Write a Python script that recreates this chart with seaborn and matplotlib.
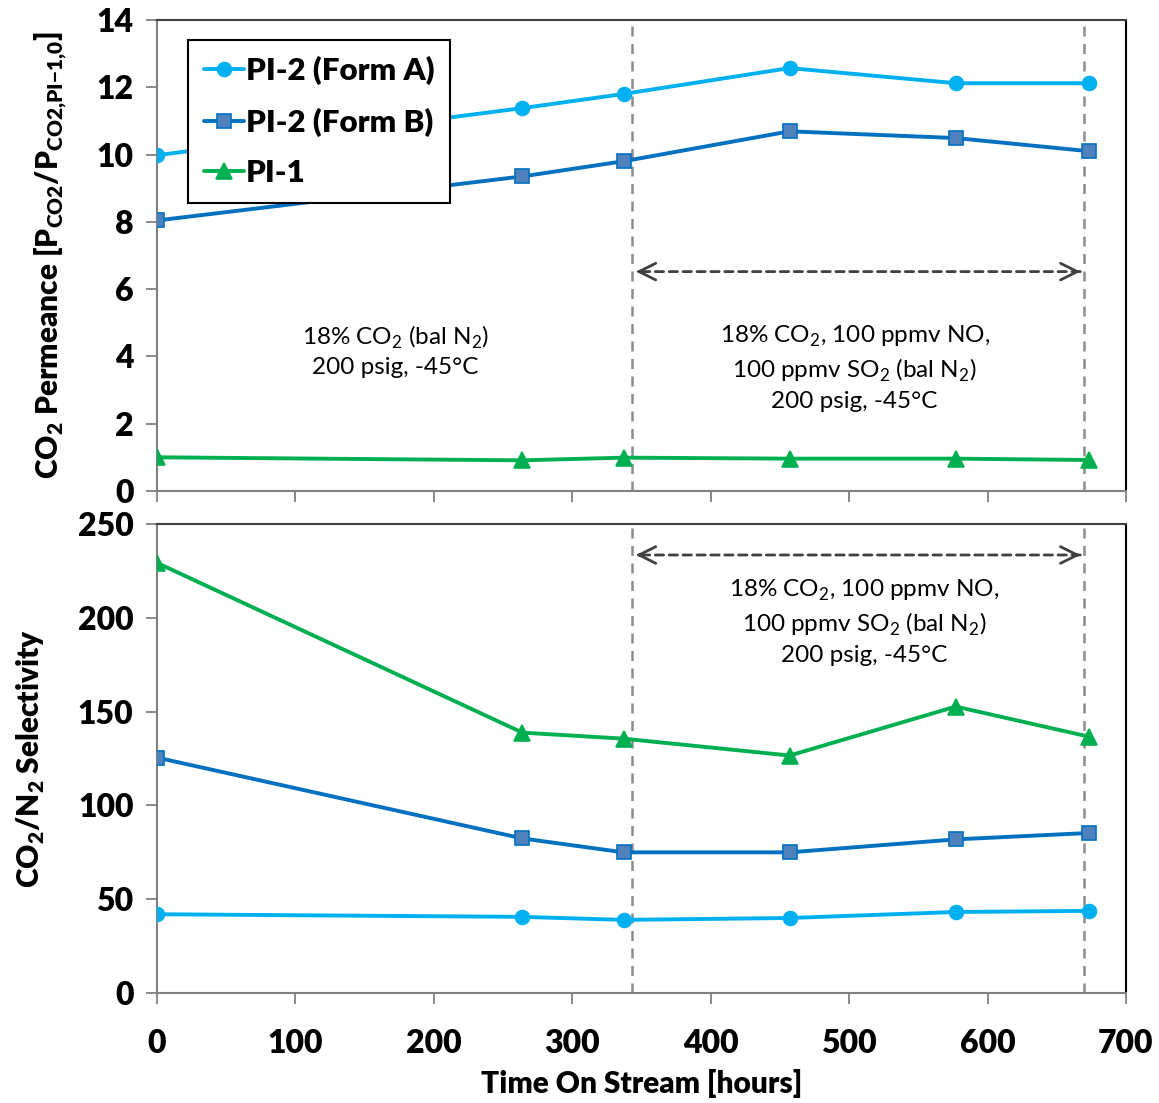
import matplotlib
matplotlib.use("Agg")
import matplotlib.pyplot as plt
import seaborn as sns
import pandas as pd

# ---- data ----
hours = [0, 264, 337, 457, 577, 673]
perm_form_a = [9.98, 11.38, 11.8, 12.57, 12.12, 12.12]
perm_form_b = [8.04, 9.35, 9.8, 10.69, 10.49, 10.1]
perm_pi1 = [1.0, 0.91, 0.99, 0.96, 0.96, 0.92]
sel_form_a = [42.0, 40.6, 39.0, 40.0, 43.2, 43.8]
sel_form_b = [125.5, 82.4, 75.0, 75.0, 81.9, 85.3]
sel_pi1 = [229.3, 138.8, 135.6, 126.6, 152.7, 136.7]
series_names = ["PI-2 (Form A)", "PI-2 (Form B)", "PI-1"]
switch_hours = [343, 670]
xticks = [0, 100, 200, 300, 400, 500, 600, 700]

sns.set_theme(style="white")
plt.rcParams["font.family"] = ["Lato", "DejaVu Sans"]
plt.rcParams["axes.unicode_minus"] = False
plt.rcParams["text.color"] = "black"
plt.rcParams["axes.labelcolor"] = "black"

fig = plt.figure(figsize=(11.59, 11.03), dpi=100)
ax1 = fig.add_axes([0.1355, 0.5549, 0.836, 0.427])
ax2 = fig.add_axes([0.1355, 0.0997, 0.836, 0.4252])

styles = {
    "PI-2 (Form A)": dict(color="#00B0F0", marker="o", mfc="#00B0F0", mec="#00B0F0", ms=10),
    "PI-2 (Form B)": dict(color="#0070C0", marker="s", mfc="#4F81BD", mec="#0070C0", ms=10),
    "PI-1": dict(color="#00B050", marker="^", mfc="#00B050", mec="#00B050", ms=11),
}

def draw(ax, vals):
    for name, v in zip(series_names, vals):
        st = styles[name]
        sns.lineplot(x=hours, y=v, ax=ax, color=st["color"], marker=st["marker"],
                     markerfacecolor=st["mfc"], markeredgecolor=st["mec"],
                     markersize=st["ms"], markeredgewidth=1.2, linewidth=2.8,
                     label=name, zorder=3)

draw(ax1, [perm_form_a, perm_form_b, perm_pi1])
draw(ax2, [sel_form_a, sel_form_b, sel_pi1])

BOLD = "heavy"
for ax, ylim, yt in [(ax1, (0, 14), range(0, 15, 2)), (ax2, (0, 250), range(0, 251, 50))]:
    ax.set_xlim(0, 700)
    ax.set_ylim(*ylim)
    ax.set_yticks(list(yt))
    ax.set_xticks(xticks)
    for sw in switch_hours:
        ax.axvline(sw, color="#8C8C8C", lw=1.8, ls=(0, (4, 3)), zorder=2)
    ax.spines["left"].set_color("#808080")
    ax.spines["bottom"].set_color("#808080")
    ax.spines["top"].set_color("#404040")
    ax.spines["right"].set_color("#000000")
    for s in ax.spines.values():
        s.set_linewidth(1.5)
    ax.tick_params(axis="both", which="major", direction="out", length=8, width=1.3,
                   color="#808080", labelcolor="black", left=True, bottom=True,
                   labelsize=23)
    ax.tick_params(axis="y", pad=9)
    ax.tick_params(axis="x", pad=18)
    for lab in ax.get_yticklabels() + ax.get_xticklabels():
        lab.set_fontweight(BOLD)

ax1.set_xticklabels([])
ax2.set_xticklabels([str(t) for t in xticks], fontweight=BOLD)

ax1.set_ylabel(r"CO$_\mathregular{2}$ Permeance [P$_\mathregular{CO2}$/P$_\mathregular{CO2{,}PI{-}1{,}0}$]",
               fontsize=21.5, fontweight=BOLD, labelpad=20)
ax2.set_ylabel(r"CO$_\mathregular{2}$/N$_\mathregular{2}$ Selectivity", fontsize=21.5,
               fontweight=BOLD, labelpad=22)
ax2.set_xlabel("Time On Stream [hours]", fontsize=21.5, fontweight=BOLD, labelpad=8)
ax1.set_xlabel("")

# legend
if ax2.get_legend():
    ax2.get_legend().remove()
leg = ax1.legend(loc="upper left", bbox_to_anchor=(0.032, 0.957), borderaxespad=0,
                 fancybox=False, framealpha=1, edgecolor="black", handlelength=1.3,
                 handletextpad=0.05, labelspacing=0.72, borderpad=0.5,
                 prop=dict(size=22.5, weight=BOLD))
leg.get_frame().set_linewidth(1.5)

# arrows: dashed shaft + solid open heads
for ax, y in [(ax1, 6.52), (ax2, 233.5)]:
    ax.annotate("", xy=(346, y), xytext=(667, y),
                arrowprops=dict(arrowstyle="-", color="#404040", lw=2, ls=(0, (3, 2)),
                                shrinkA=0, shrinkB=0))
    for tip, tail in [(346, 350), (667, 663)]:
        ax.annotate("", xy=(tip, y), xytext=(tail, y),
                    arrowprops=dict(arrowstyle="->,head_length=1.0,head_width=0.5",
                                    color="#404040", lw=2, shrinkA=0, shrinkB=0))

txt_kw = dict(ha="center", va="center", fontsize=17.5, color="black", linespacing=1.4)
ax1.text(172, 4.16, "18% CO$_\\mathregular{2}$ (bal N$_\\mathregular{2}$)\n200 psig, -45°C", **txt_kw)
ax1.text(504, 3.66, "18% CO$_\\mathregular{2}$, 100 ppmv NO,\n100 ppmv SO$_\\mathregular{2}$ (bal N$_\\mathregular{2}$)\n200 psig, -45°C", **txt_kw)
ax2.text(511, 197.8, "18% CO$_\\mathregular{2}$, 100 ppmv NO,\n100 ppmv SO$_\\mathregular{2}$ (bal N$_\\mathregular{2}$)\n200 psig, -45°C", **txt_kw)

fig.savefig("out.png", dpi=100)
